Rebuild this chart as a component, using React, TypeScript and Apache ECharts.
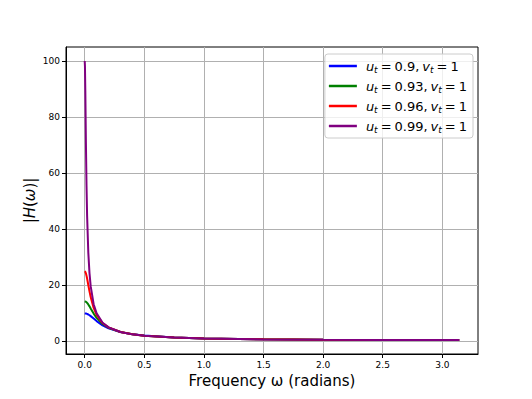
import React, { useEffect, useRef } from "react";
import * as echarts from "echarts";

const omega = [0, 0.002, 0.005, 0.01, 0.015, 0.02, 0.03, 0.04, 0.05, 0.075, 0.1, 0.15, 0.2, 0.3, 0.4, 0.5, 0.75, 1.0, 1.5, 2.0, 2.5, 3.1416];
const h090 = [10, 9.998, 9.989, 9.955, 9.9, 9.825, 9.618, 9.349, 9.035, 8.149, 7.256, 5.752, 4.668, 3.326, 2.564, 2.084, 1.424, 1.093, 0.771, 0.625, 0.555, 0.526];
const h093 = [14.286, 14.28, 14.252, 14.152, 13.99, 13.772, 13.203, 12.512, 11.765, 9.937, 8.394, 6.226, 4.881, 3.372, 2.567, 2.073, 1.409, 1.078, 0.76, 0.616, 0.546, 0.518];
const h096 = [25, 24.97, 24.815, 24.282, 23.466, 22.451, 20.146, 17.857, 15.813, 11.955, 9.453, 6.569, 5.008, 3.383, 2.555, 2.056, 1.391, 1.063, 0.748, 0.606, 0.538, 0.51];
const h099 = [100, 98.08, 89.53, 70.89, 55.66, 44.9, 31.77, 24.37, 19.71, 13.285, 10.004, 6.69, 5.027, 3.361, 2.529, 2.031, 1.372, 1.048, 0.737, 0.597, 0.53, 0.503];

const seriesNames = ["u0.9", "u0.93", "u0.96", "u0.99"];
const uLabels = ["0.9", "0.93", "0.96", "0.99"];
const colors = ["#0000ff", "#008000", "#ff0000", "#800080"];
const xTicks = [0, 0.5, 1, 1.5, 2, 2.5, 3];
const yTicks = [0, 20, 40, 60, 80, 100];

export default function App() {
  const ref = useRef<HTMLDivElement>(null);
  useEffect(() => {
    if (!ref.current) return;
    const chart = echarts.init(ref.current, null, { renderer: "svg" });
    const values = [h090, h093, h096, h099];
    const font = "DejaVu Sans";
    chart.setOption({
      animation: false,
      textStyle: { fontFamily: font },
      grid: {
        left: 66,
        top: 47,
        width: 412,
        height: 307,
        show: true,
        borderColor: "#000",
        borderWidth: 1,
        backgroundColor: "#fff",
      },
      legend: {
        orient: "vertical",
        right: 59,
        top: 54,
        padding: [4, 6, 4, 4],
        itemGap: 4,
        itemWidth: 28,
        itemHeight: 2.5,
        icon: "rect",
        backgroundColor: "rgba(255,255,255,0.8)",
        borderColor: "#cccccc",
        borderWidth: 1,
        borderRadius: 3,
        data: seriesNames,
        formatter: (name: string) => {
          const i = seriesNames.indexOf(name);
          return `{g|}{i|u}{s|t}{sp|}{n|=}{sp|}{n|${uLabels[i]},}{sp|}{i|v}{s|t}{sp|}{n|=}{sp|}{n|1}`;
        },
        textStyle: {
          fontFamily: font,
          fontSize: 13,
          color: "#000",
          lineHeight: 16,
          rich: {
            g: { width: 4, lineHeight: 16 },
            sp: { width: 3, lineHeight: 16 },
            i: { fontStyle: "italic", fontSize: 13, fontFamily: font, color: "#000", lineHeight: 16 },
            s: { fontStyle: "italic", fontSize: 9, fontFamily: font, color: "#000", verticalAlign: "bottom", padding: [6, 0, 0, 0], lineHeight: 16 },
            n: { fontSize: 13, fontFamily: font, color: "#000", lineHeight: 16 },
          },
        },
      },
      xAxis: {
        type: "value",
        min: -0.157,
        max: 3.299,
        name: "Frequency ω (radians)",
        nameLocation: "middle",
        nameGap: 19,
        nameTextStyle: { fontSize: 15, color: "#000", fontFamily: font },
        axisLine: { show: true, onZero: false, lineStyle: { color: "#000", width: 1 } },
        axisTick: { show: true, inside: false, length: 4, customValues: xTicks, lineStyle: { color: "#000" } },
        axisLabel: {
          customValues: xTicks,
          fontSize: 9,
          color: "#000",
          margin: 6,
          formatter: (v: number) => v.toFixed(1),
        },
        splitLine: { show: true, lineStyle: { color: "#b0b0b0", width: 1 } },
      },
      yAxis: {
        type: "value",
        min: -4.47,
        max: 104.97,
        name: "{n||}{i|H}{n|(}{i|ω}{n|)|}",
        nameLocation: "middle",
        nameRotate: 90,
        nameGap: 29,
        nameMoveOverlap: false,
        nameTextStyle: {
          fontSize: 15,
          color: "#000",
          fontFamily: font,
          rich: {
            n: { fontSize: 15, color: "#000", fontFamily: font },
            i: { fontSize: 15, color: "#000", fontFamily: font, fontStyle: "italic" },
          },
        },
        axisLine: { show: true, onZero: false, lineStyle: { color: "#000", width: 1 } },
        axisTick: { show: true, inside: false, length: 4, customValues: yTicks, lineStyle: { color: "#000" } },
        axisLabel: {
          customValues: yTicks,
          fontSize: 9,
          color: "#000",
          margin: 6,
          formatter: (v: number) => String(Math.round(v)),
        },
        splitLine: { show: true, lineStyle: { color: "#b0b0b0", width: 1 } },
      },
      series: values.map((vals, k) => ({
        name: seriesNames[k],
        type: "line",
        symbol: "none",
        smooth: false,
        color: colors[k],
        lineStyle: { color: colors[k], width: 2 },
        data: omega.map((w, i) => [w, vals[i]]),
      })),
    });
    return () => chart.dispose();
  }, []);
  return <div ref={ref} style={{ width: 532, height: 399, margin: -8 }} />;
}
